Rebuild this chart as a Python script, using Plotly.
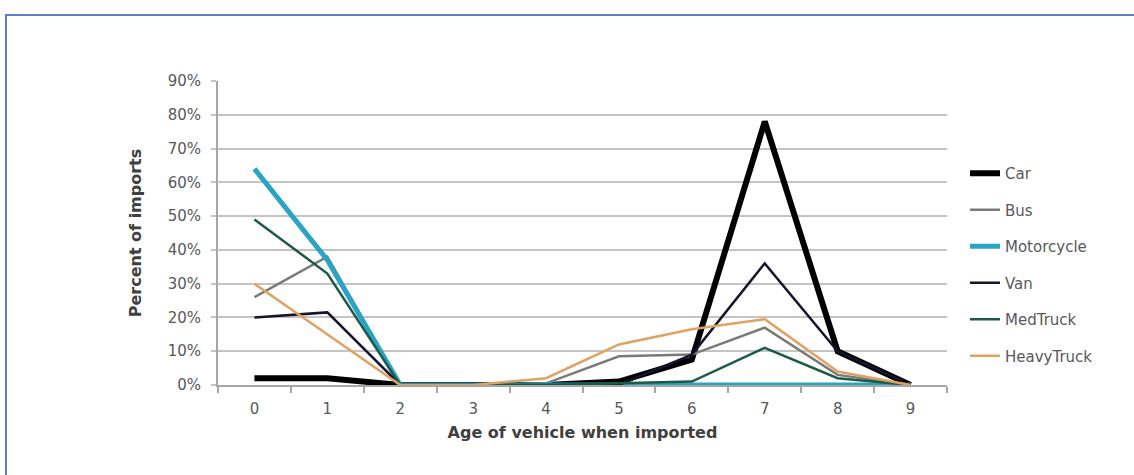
import plotly.graph_objects as go

ages = ["0", "1", "2", "3", "4", "5", "6", "7", "8", "9"]

car = [0.02, 0.02, 0.00, 0.00, 0.00, 0.01, 0.075, 0.78, 0.10, 0.00]
bus = [0.26, 0.38, 0.00, 0.00, 0.005, 0.085, 0.09, 0.17, 0.03, 0.00]
motorcycle = [0.64, 0.37, 0.00, 0.00, 0.00, 0.00, 0.00, 0.00, 0.00, 0.00]
van = [0.20, 0.215, 0.00, 0.00, 0.00, 0.00, 0.09, 0.36, 0.10, 0.00]
medtruck = [0.49, 0.33, 0.00, 0.00, 0.00, 0.005, 0.01, 0.11, 0.02, 0.00]
heavytruck = [0.30, 0.15, 0.00, 0.00, 0.02, 0.12, 0.165, 0.195, 0.04, 0.00]

y_ticks = [0, 0.1, 0.2, 0.3, 0.4, 0.5, 0.6, 0.7, 0.8, 0.9]

series = [
    ("Car", car, "#000000", 6),
    ("Bus", bus, "#7a7a7a", 2.5),
    ("Motorcycle", motorcycle, "#2aa3c4", 5),
    ("Van", van, "#14142e", 2.5),
    ("MedTruck", medtruck, "#1d5a48", 2.5),
    ("HeavyTruck", heavytruck, "#e0a262", 2.5),
]

FONT = "DejaVu Sans, Verdana, sans-serif"

fig = go.Figure()
for name, vals, color, width in series:
    fig.add_trace(go.Scatter(
        x=ages, y=vals, name=name, mode="lines",
        legendgroup=name,
        line=dict(color=color, width=width),
    ))

# plot area in pixels: x 218..947, y 81..385
L, R, T, B = 218, 947, 81, 385
W, H = 1134, 475
pw, ph = R - L, B - T

def px(x):
    return (x - L) / pw

def py(y):
    return (B - y) / ph

fig.update_layout(
    width=W, height=H,
    margin=dict(l=L, r=W - R, t=T, b=H - B, pad=0),
    paper_bgcolor="white",
    plot_bgcolor="white",
    font=dict(family=FONT, color="#595959", size=14),
    showlegend=True,
    legend=dict(
        x=px(965), y=py(157), xanchor="left", yanchor="top",
        font=dict(family=FONT, size=15, color="#595959"),
        tracegroupgap=14,
        bgcolor="rgba(0,0,0,0)",
    ),
    shapes=[
        dict(type="rect", xref="paper", yref="paper",
             x0=px(6), x1=px(1150), y0=py(490), y1=py(15),
             line=dict(color="#5b7fc8", width=2), fillcolor="rgba(0,0,0,0)",
             layer="below"),
    ],
)

fig.update_xaxes(
    type="category",
    range=[-0.5, 9.5],
    showgrid=False,
    showline=True, linecolor="#a6a6a6", linewidth=2,
    ticks="outside", tickson="boundaries", ticklen=6, tickcolor="#a6a6a6", tickwidth=1.5,
    ticklabelstandoff=9,
    tickfont=dict(family=FONT, size=15, color="#595959"),
    title=dict(text="<b>Age of vehicle when imported</b>",
               font=dict(family=FONT, size=16, color="#404040"), standoff=10),
)

fig.update_yaxes(
    range=[0, 0.9],
    tickvals=y_ticks,
    tickformat=".0%",
    showgrid=True, gridcolor="#c4c4c4", gridwidth=2,
    showline=True, linecolor="#a6a6a6", linewidth=2,
    zeroline=False,
    ticks="outside", ticklen=5, tickcolor="#c4c4c4", tickwidth=2,
    ticklabelstandoff=7,
    tickfont=dict(family=FONT, size=15, color="#595959"),
    title=dict(text="<b>Percent of imports</b>",
               font=dict(family=FONT, size=16, color="#404040"), standoff=22),
)

fig.write_html("out.html")
